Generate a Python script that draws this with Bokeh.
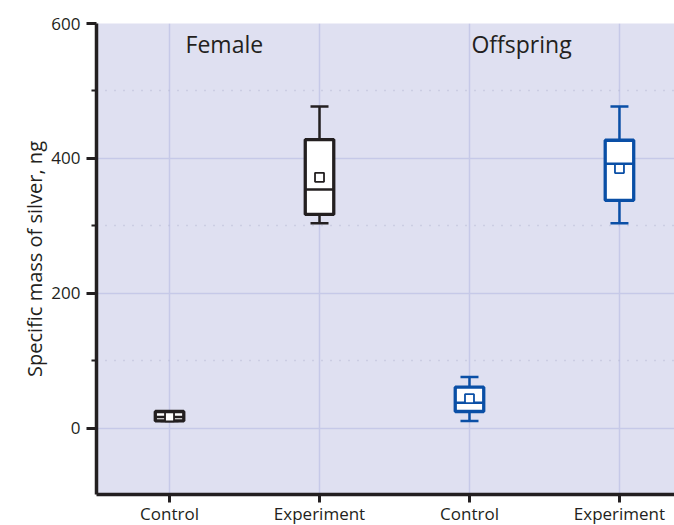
from bokeh.plotting import figure
from bokeh.models import FixedTicker, ColumnDataSource, Range1d
from bokeh.core.properties import value
from bokeh.embed import file_html
from bokeh.resources import INLINE

# ---- data ----
positions = [1, 2, 3, 4]
categories = ["Control", "Experiment", "Control", "Experiment"]
groups = ["Female", "Female", "Offspring", "Offspring"]
whisker_low = [11, 304, 11, 304]
q1 = [11, 317, 25, 338]
median = [17, 354, 38, 392]
q3 = [25, 428, 61, 427]
whisker_high = [25, 477, 76, 477]
mean = [17, 372, 44, 385]
group_labels = ["Female", "Offspring"]
group_label_x = [1.107, 3.013]
group_label_y = [569, 569]
y_major = [0, 200, 400, 600]
y_minor = [100, 300, 500]

DARK = "#231f20"
BLUE = "#0a4fa6"
colors = [DARK if g == "Female" else BLUE for g in groups]
FONT = "Open Sans"

src = ColumnDataSource(dict(x=positions, lo=whisker_low, q1=q1, med=median,
                            q3=q3, hi=whisker_high, mean=mean, color=colors))

p = figure(frame_width=578, frame_height=471, output_backend="svg", toolbar_location=None,
           x_range=Range1d(0.513, 4.367), y_range=Range1d(-98, 600),
           min_border_left=96, min_border_top=23, min_border_bottom=0,
           min_border_right=0, background_fill_color="#dfe0f1",
           border_fill_color="white")
p.outline_line_color = None

# grids
p.xgrid.ticker = FixedTicker(ticks=positions)
p.xgrid.grid_line_color = "#c6c9e8"
p.xgrid.grid_line_width = 1.5
p.ygrid.ticker = FixedTicker(ticks=y_major, minor_ticks=y_minor)
p.ygrid.grid_line_color = "#c6c9e8"
p.ygrid.grid_line_width = 1.5
p.ygrid.minor_grid_line_color = "#b8bbd4"
p.ygrid.minor_grid_line_dash = "1 8"
p.ygrid.minor_grid_line_width = 1.5

# axes
p.xaxis.ticker = FixedTicker(ticks=positions)
p.xaxis.major_label_overrides = {pos: c for pos, c in zip(positions, categories)}
p.yaxis.ticker = FixedTicker(ticks=y_major, minor_ticks=y_minor)
for ax in (p.xaxis[0], p.yaxis[0]):
    ax.axis_line_width = 3.5
    ax.axis_line_color = DARK
    ax.major_tick_line_width = 3
    ax.major_tick_line_color = DARK
    ax.major_tick_out = 10
    ax.major_tick_in = 0
    ax.minor_tick_line_color = DARK
    ax.minor_tick_line_width = 2
    ax.minor_tick_out = 5
    ax.minor_tick_in = 0
    ax.major_label_text_font = FONT
    ax.major_label_text_color = DARK
    ax.axis_label_text_font = FONT
    ax.axis_label_text_font_style = "normal"
    ax.axis_label_text_color = DARK
p.xaxis.minor_tick_line_color = None
p.xaxis.major_tick_out = 8
p.xaxis.major_label_text_font_size = "17px"
p.yaxis.major_label_text_font_size = "17px"
p.xaxis.major_label_standoff = -1
p.yaxis.major_label_standoff = 6
p.yaxis.axis_label = "Specific mass of silver, ng"
p.yaxis.axis_label_text_font_size = "20px"
p.yaxis.axis_label_standoff = 0

# boxes
cap = 0.06
half = 0.095
src.data["cx0"] = [x - cap for x in positions]
src.data["cx1"] = [x + cap for x in positions]
src.data["bx0"] = [x - half for x in positions]
src.data["bx1"] = [x + half for x in positions]
p.segment(x0="x", y0="lo", x1="x", y1="hi", source=src, line_color="color", line_width=2.5)
p.segment(x0="cx0", y0="hi", x1="cx1", y1="hi", source=src, line_color="color", line_width=2.5)
p.segment(x0="cx0", y0="lo", x1="cx1", y1="lo", source=src, line_color="color", line_width=2.5)
p.vbar(x="x", bottom="q1", top="q3", width=2 * half, source=src, fill_color="white",
       line_color="color", line_width=3.3)
p.segment(x0="bx0", y0="med", x1="bx1", y1="med", source=src, line_color="color", line_width=2.5)
p.scatter(x="x", y="mean", source=src, marker="square", size=9, fill_color="white",
          line_color="color", line_width=1.8)

# group labels
p.text(x=group_label_x, y=group_label_y, text=group_labels, text_font=value(FONT),
       text_font_size="23px", text_color=DARK, text_align="left",
       text_baseline="middle")

open("out.html", "w").write(file_html(p, INLINE))
